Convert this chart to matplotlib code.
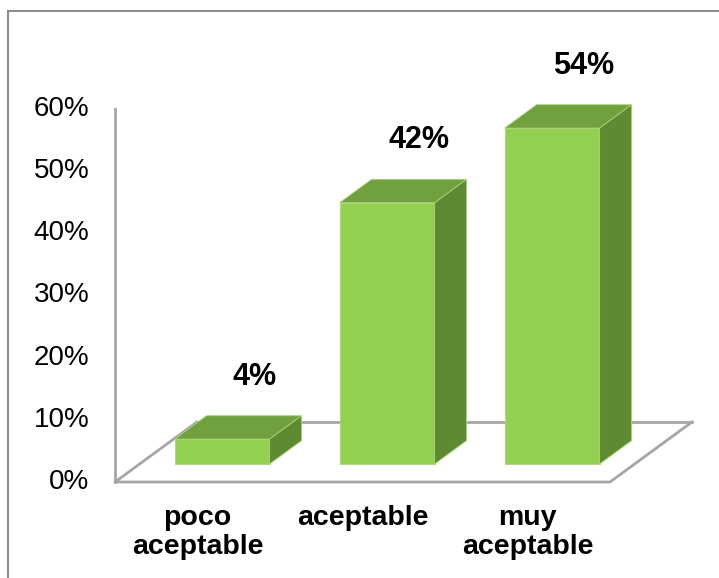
import matplotlib.pyplot as plt
from matplotlib.patches import Polygon
from matplotlib.lines import Line2D

plt.rcParams['font.family'] = ['Liberation Sans', 'DejaVu Sans']

# data
categories = ['poco\naceptable', 'aceptable', 'muy\naceptable']
values = [4, 42, 54]
yticks = [0, 10, 20, 30, 40, 50, 60]

# colours
front_col = '#92d050'
top_col = '#71a03e'
side_col = '#5e8a32'
grey = '#a6a6a6'

# 3d look: depth of the floor in data units, bars sit in the middle of it
ddx, ddy = 0.497, 9.65
start, depth = 0.30, 0.39
width = 0.576

fig = plt.figure(figsize=(7.19, 5.78), dpi=100)
ax = fig.add_axes([0, 0, 1, 1])
ax.set_xlim(-0.5 - 115 / 165, -0.5 + (719 - 115) / 165)
ax.set_ylim((482 - 578) / 6.22, 482 / 6.22)
ax.axis('off')

n = len(categories)
x0, x1 = -0.5, n - 0.5

# floor outline
ax.plot([x0 + ddx, x0, x1, x1 + ddx], [ddy, 0, 0, ddy], color=grey, lw=2, zorder=1)
ax.plot([x0 + ddx, x1 + ddx], [ddy, ddy], color=grey, lw=2, zorder=1)
# value axis
ax.plot([x0, x0], [0, yticks[-1]], color=grey, lw=2, zorder=1)

for t in yticks:
    ax.text(x0 - 0.155, t, f'{t}%', ha='right', va='center', fontsize=20)

for i, (lab, v) in enumerate(zip(categories, values)):
    fx = i + start * ddx - width / 2
    fy = start * ddy
    bx, by = depth * ddx, depth * ddy
    front = [(fx, fy), (fx + width, fy), (fx + width, fy + v), (fx, fy + v)]
    top = [(fx, fy + v), (fx + width, fy + v), (fx + width + bx, fy + v + by), (fx + bx, fy + v + by)]
    side = [(fx + width, fy), (fx + width + bx, fy + by), (fx + width + bx, fy + v + by), (fx + width, fy + v)]
    for pts, c in [(front, front_col), (top, top_col), (side, side_col)]:
        ax.add_patch(Polygon(pts, closed=True, facecolor=c, edgecolor='#a9d67a', lw=0.6, zorder=3))
    ax.annotate(f'{v}%', (fx + width / 2 + bx, fy + v + by), xytext=(0, 28),
                textcoords='offset points', ha='center', va='center',
                fontsize=22, fontweight='bold')
    ax.text(i, -3.7, lab, ha='center', va='top', fontsize=20.5,
            fontweight='bold', linespacing=1.15)

# chart border (top and left visible)
fig.add_artist(Line2D([8 / 719, 1], [1 - 11 / 578, 1 - 11 / 578], color='#8c8c8c', lw=1.5))
fig.add_artist(Line2D([8 / 719, 8 / 719], [0, 1 - 11 / 578], color='#8c8c8c', lw=1.5))

fig.savefig('out.png', dpi=100)
